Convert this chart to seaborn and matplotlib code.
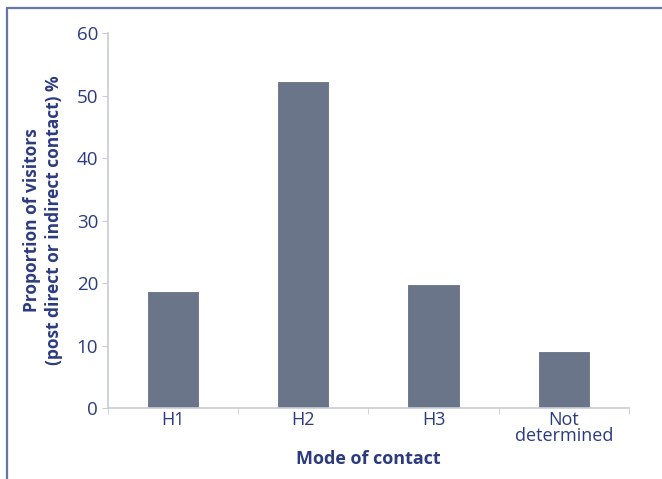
import matplotlib
matplotlib.use("Agg")
import matplotlib.pyplot as plt
from matplotlib.lines import Line2D
import pandas as pd
import seaborn as sns

# Valeurs
modes = ['H1', 'H2', 'H3', 'Not\ndetermined']
proportions = [18.8, 52.3, 19.9, 9.1]

dados = pd.DataFrame({'Mode': modes, 'Proportion': proportions})

navy = '#2b3b7e'
bar_col = '#6b7589'
spine_col = '#c9ccd6'

sns.set_style('white')
plt.rcParams['font.family'] = ['Open Sans', 'DejaVu Sans']

fig = plt.figure(figsize=(6.62, 4.79), dpi=100)
ax = fig.add_axes([0.163, 0.148, 0.787, 0.783])

sns.barplot(x='Mode', y='Proportion', data=dados, order=modes, color=bar_col,
            width=0.4, saturation=1, edgecolor='white', linewidth=0.8, ax=ax)

ax.set_ylim(0, 60)
ax.set_xlim(-0.5, len(modes) - 0.5)
ax.set_yticks(range(0, 61, 10))
ax.set_xticks(range(len(modes)))
ax.set_xticklabels(modes, linespacing=0.9)
ax.set_xticks([i - 0.5 for i in range(len(modes) + 1)], minor=True)

for s in ['top', 'right']:
    ax.spines[s].set_visible(False)
for s in ['left', 'bottom']:
    ax.spines[s].set_color(spine_col)
    ax.spines[s].set_linewidth(1.2)

ax.tick_params(axis='y', which='major', length=4, color=spine_col, labelsize=13.5,
               labelcolor=navy, pad=3, left=True)
ax.tick_params(axis='x', which='major', length=0, labelsize=13, labelcolor=navy, pad=2)
ax.tick_params(axis='x', which='minor', length=4, color=spine_col, bottom=True)

ax.set_xlabel('Mode of contact', fontsize=13, fontweight='bold', color=navy, labelpad=3)
ax.set_ylabel('Proportion of visitors\n(post direct or indirect contact) %', fontsize=12.5,
              fontweight='bold', color=navy, labelpad=10, linespacing=1.3)

# cadre de la figure (haut et gauche)
frame_col = '#6776a3'
fig.add_artist(Line2D([7 / 662, 1.0], [1 - 8 / 479, 1 - 8 / 479], color=frame_col, lw=1.6))
fig.add_artist(Line2D([7 / 662, 7 / 662], [0, 1 - 8 / 479], color=frame_col, lw=1.6))

fig.savefig('out.png', dpi=100)
